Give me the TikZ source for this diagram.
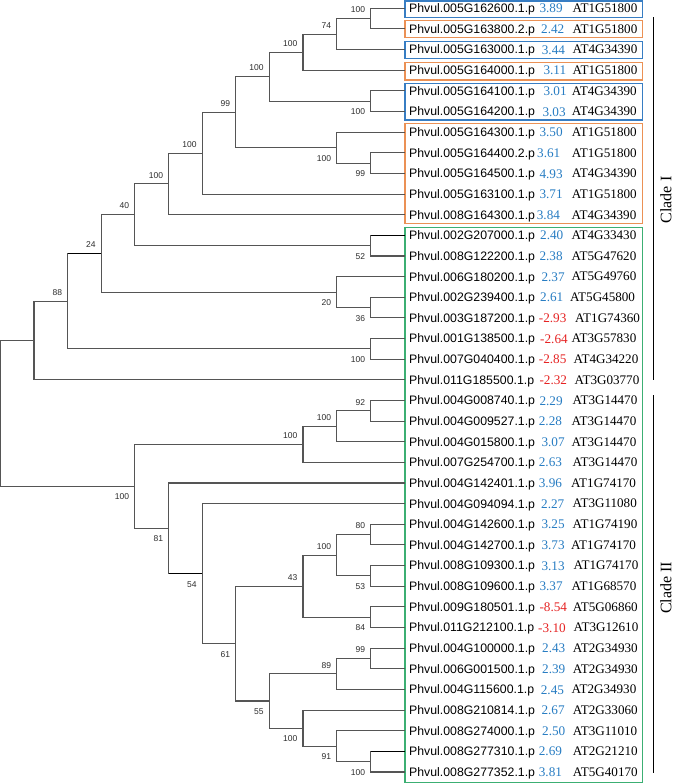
\documentclass[tikz,border=0pt]{standalone}
\usepackage{fontspec}
\setmainfont{Liberation Serif}
\newfontfamily\lsans{Liberation Sans}
\usetikzlibrary{calc}
\definecolor{boxblue}{RGB}{55,125,195}
\definecolor{boxorange}{RGB}{235,145,85}
\definecolor{boxgreen}{RGB}{60,175,115}
\definecolor{numblue}{RGB}{40,125,195}
\definecolor{numred}{RGB}{230,35,35}
\definecolor{branch}{RGB}{85,85,85}
\definecolor{bstext}{RGB}{45,45,45}
\begin{document}
\begin{tikzpicture}[x=1pt,y=-1pt,
  declare function={ry(\k)=8.3+(\k-1)*20.64;},
  br/.style={draw=branch,line width=1.1pt},
  brthick/.style={draw=black,line width=1.6pt},
  bs/.style={font=\lsans\fontsize{8.5}{10}\selectfont,text=bstext,inner sep=0pt},
  leafname/.style={font=\lsans\fontsize{12.3}{14}\selectfont,anchor=base west,inner sep=0pt},
  numtxt/.style={font=\fontsize{13.2}{15}\selectfont,anchor=base west,inner sep=0pt},
  attxt/.style={font=\fontsize{13.1}{15}\selectfont,anchor=base west,inner sep=0pt},
  grpbox/.style={line width=1.5pt},
  cladebar/.style={draw=black,line width=1.2pt},
  cladelbl/.style={font=\fontsize{16}{18}\selectfont,rotate=90,inner sep=0pt}
]
\useasboundingbox[fill=white] (0,0) rectangle (677,784);

% group boxes
\draw[grpbox,boxblue]   (405,0.9)   rectangle (642.3,17.3);
\draw[grpbox,boxorange] (405,20.7)  rectangle (642.3,37.7);
\draw[grpbox,boxblue]   (405,41.7)  rectangle (642.3,58.3);
\draw[grpbox,boxorange] (405,62.7)  rectangle (642.3,80.0);
\draw[grpbox,boxblue]   (405,83.3)  rectangle (642.3,120.0);
\draw[grpbox,boxorange] (405,123.3) rectangle (642.3,223.3);
\draw[grpbox,boxgreen]  (405,227.7) rectangle (642.3,782.7);

% leaves
\foreach \k/\g/\v/\c/\nx/\a/\ax in {
 1/005G162600.1.p/3.89/numblue/478/AT1G51800/577,
 2/005G163800.2.p/2.42/numblue/483/AT1G51800/577,
 3/005G163000.1.p/3.44/numblue/485/AT4G34390/577,
 4/005G164000.1.p/3.11/numblue/490/AT1G51800/577,
 5/005G164100.1.p/3.01/numblue/490/AT4G34390/575,
 6/005G164200.1.p/3.03/numblue/487/AT4G34390/575,
 7/005G164300.1.p/3.50/numblue/478/AT1G51800/575,
 8/005G164400.2.p/3.61/numblue/471/AT1G51800/575,
 9/005G164500.1.p/4.93/numblue/478/AT4G34390/575,
 10/005G163100.1.p/3.71/numblue/478/AT1G51800/575,
 11/008G164300.1.p/3.84/numblue/470/AT4G34390/574,
 12/002G207000.1.p/2.40/numblue/480/AT4G33430/574,
 13/008G122200.1.p/2.38/numblue/478/AT5G47620/574,
 14/006G180200.1.p/2.37/numblue/484/AT5G49760/574,
 15/002G239400.1.p/2.61/numblue/480/AT5G45800/570,
 16/003G187200.1.p/-2.93/numred/476/AT1G74360/585,
 17/001G138500.1.p/-2.64/numred/480/AT3G57830/574,
 18/007G040400.1.p/-2.85/numred/476/AT4G34220/580,
 19/011G185500.1.p/-2.32/numred/478/AT3G03770/583,
 20/004G008740.1.p/2.29/numblue/478/AT3G14470/577,
 21/004G009527.1.p/2.28/numblue/476/AT3G14470/574,
 22/004G015800.1.p/3.07/numblue/484/AT3G14470/574,
 23/007G254700.1.p/2.63/numblue/476/AT3G14470/577,
 24/004G142401.1.p/3.96/numblue/476/AT1G74170/573,
 25/004G094094.1.p/2.27/numblue/483/AT3G11080/577,
 26/004G142600.1.p/3.25/numblue/484/AT1G74190/577,
 27/004G142700.1.p/3.73/numblue/484/AT1G74170/573,
 28/008G109300.1.p/3.13/numblue/484/AT1G74170/580,
 29/008G109600.1.p/3.37/numblue/478/AT1G68570/574,
 30/009G180501.1.p/-8.54/numred/478/AT5G06860/578,
 31/011G212100.1.p/-3.10/numred/474/AT3G12610/580,
 32/004G100000.1.p/2.43/numblue/486/AT2G34930/578,
 33/006G001500.1.p/2.39/numblue/486/AT2G34930/578,
 34/004G115600.1.p/2.45/numblue/482/AT2G34930/574,
 35/008G210814.1.p/2.67/numblue/484/AT2G33060/578,
 36/008G274000.1.p/2.50/numblue/486/AT3G11010/578,
 37/008G277310.1.p/2.69/numblue/476/AT2G21210/578,
 38/008G277352.1.p/3.81/numblue/476/AT5G40170/578}{
  \coordinate (e\k) at (405,{ry(\k)});
  \node[leafname] (n\k) at (409,{ry(\k)+4.4}) {Phvul.\g};
  \node[numtxt,text=\c] (v\k) at ({380+\nx/3},{ry(\k)+4.6}) {\v};
  \node[attxt] (a\k) at ({380+\ax/3},{ry(\k)+4.3}) {\a};
}

% internal nodes (x = branch level, y = midpoint of children)
\coordinate (A)   at (370.7,18.62);
\coordinate (B)   at (336.7,34.10);
\coordinate (C)   at (303.0,52.16);
\coordinate (E)   at (370.7,101.18);
\coordinate (D)   at (269.3,76.67);
\coordinate (H)   at (370.7,163.10);
\coordinate (G)   at (336.7,147.62);
\coordinate (F)   at (235.7,112.15);
\coordinate (I)   at (202.3,153.10);
\coordinate (J)   at (168.7,183.90);
\coordinate (N52) at (370.7,245.66);
\coordinate (K)   at (134.7,214.78);
\coordinate (N36) at (370.7,307.58);
\coordinate (M)   at (336.7,292.10);
\coordinate (L)   at (101.3,253.44);
\coordinate (P)   at (370.7,348.86);
\coordinate (O)   at (67.7,301.15);
\coordinate (Q)   at (34.0,340.50);
\coordinate (R)   at (370.7,410.78);
\coordinate (S)   at (336.7,426.26);
\coordinate (T)   at (303.0,444.32);
\coordinate (AC)  at (370.7,534.62);
\coordinate (AD)  at (370.7,575.90);
\coordinate (AA)  at (336.7,555.26);
\coordinate (AB)  at (370.7,617.18);
\coordinate (Y)   at (303.0,586.22);
\coordinate (AG)  at (370.7,658.46);
\coordinate (AE)  at (336.7,673.94);
\coordinate (AI)  at (370.7,761.66);
\coordinate (AH)  at (336.7,746.18);
\coordinate (AF)  at (303.0,728.12);
\coordinate (Z)   at (269.3,701.03);
\coordinate (X)   at (235.7,643.60);
\coordinate (W)   at (202.3,573.60);
\coordinate (V)   at (168.7,528.30);
\coordinate (U)   at (134.7,486.30);
\coordinate (R0)  at (0.8,413.40);

% branches
\foreach \p/\q in {A/e1,A/e2,B/A,B/e3,C/B,C/e4,E/e5,E/e6,D/C,D/E,
  H/e8,H/e9,G/e7,G/H,F/D,F/G,I/F,I/e10,J/I,J/e11,N52/e12,N52/e13,K/J,K/N52,
  N36/e15,N36/e16,M/e14,M/N36,L/K,L/M,P/e17,P/e18,O/L,O/P,Q/O,Q/e19,
  R/e20,R/e21,S/R,S/e22,T/S,T/e23,AC/e26,AC/e27,AD/e28,AD/e29,AA/AC,AA/AD,
  AB/e30,AB/e31,Y/AA,Y/AB,AG/e32,AG/e33,AE/AG,AE/e34,AI/e37,AI/e38,AH/e36,AH/AI,
  AF/e35,AF/AH,Z/AE,Z/AF,X/Y,X/Z,W/e25,W/X,V/e24,V/W,U/T,U/V,R0/Q,R0/U}{
  \draw[br] (\p) |- (\q);
}
% darker branch segments
\draw[brthick] (N52 |- e12) -- (e12);
\draw[brthick] (O |- L) -- (L);
\draw[brthick] (V |- W) -- (W);
\draw[brthick] (AI |- e37) -- (e37);

% bootstrap values
\foreach \p/\t in {A/100,B/74,C/100,D/100,F/99,I/100,J/100,K/40,L/24,O/88,
  R/92,S/100,T/100,AC/80,AA/100,Y/43,AG/99,AE/89}{
  \node[bs,anchor=south east] (bu\p) at ($(\p)+(-5.5,-5.5)$) {\t};
}
\foreach \p/\t in {E/100,G/100,H/99,N52/52,M/20,N36/36,P/100,U/100,V/81,W/54,
  X/61,AD/53,AB/84,Z/55,AF/100,AH/91,AI/100}{
  \node[bs,anchor=north east] (bd\p) at ($(\p)+(-5.5,7.5)$) {\t};
}

% clade bars
\coordinate (c1t) at (653.3,17.3);
\coordinate (c1b) at (653.3,380);
\coordinate (c2t) at (653.3,395);
\coordinate (c2b) at (653.3,772.7);
\draw[cladebar] (c1t) -- (c1b);
\draw[cladebar] (c2t) -- (c2b);
\node[cladelbl] (cl1) at (666,200) {Clade I};
\node[cladelbl] (cl2) at (666,588) {Clade II};
\end{tikzpicture}
\end{document}
